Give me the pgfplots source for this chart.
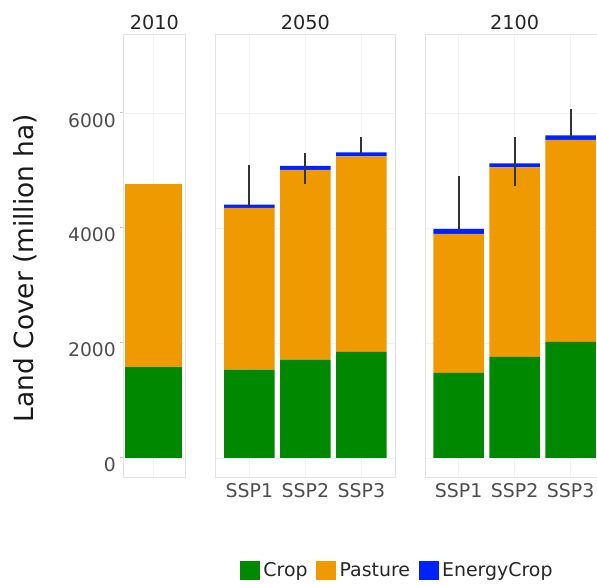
\documentclass[border=0pt]{standalone}
\usepackage{pgfplots}
\pgfplotsset{compat=1.18}
\usepackage{fontspec}
\setmainfont{DejaVu Sans}

\definecolor{cCrop}{HTML}{008800}
\definecolor{cPasture}{HTML}{EE9A00}
\definecolor{cEnergy}{HTML}{0022FF}
\definecolor{txtTick}{HTML}{4D4D4D}
\definecolor{txtStrip}{HTML}{262626}
\definecolor{panelLine}{HTML}{E3E3E3}
\definecolor{gridLine}{HTML}{F2F2F2}

\pgfplotsset{
  panel/.style={
    scale only axis, height=443bp,
    ymin=-350, ymax=7355,
    ytick={0,2000,4000,6000},
    ybar stacked, bar width=0.9,
    axis line style={panelLine, line width=1bp},
    grid=major, grid style={gridLine, line width=0.6bp},
    tick align=outside, major tick length=3bp,
    xtick style={draw=none}, ytick style={draw=none},
    xticklabel style={font=\fontsize{19}{22}\selectfont, text=txtTick,
      anchor=north, inner sep=0pt, yshift=-2.5bp},
    title style={font=\fontsize{19.3}{22}\selectfont, text=txtStrip,
      at={(0.5,1)}, anchor=south, inner sep=0pt, yshift=-1bp},
  },
  % same frame as a 3-category panel, used only to draw the error bars on top
  errlayer/.style={
    scale only axis, height=443bp, width=179.3bp,
    ymin=-350, ymax=7355, xmin=0.4, xmax=3.6,
    hide axis,
  },
  sq legend/.style={legend image code/.code={%
    \fill[##1] (0bp,-9.5bp) rectangle (20bp,9.5bp);}},
  errs/.style={draw=none, mark=none,
    error bars/.cd, y dir=both, y explicit, error mark=none,
    error bar style={draw=black!80, line width=2bp}},
}

\begin{document}
\begin{tikzpicture}

% 2010
\begin{axis}[panel, at={(123bp,107bp)}, anchor=south west, width=62.7bp,
  xmin=0.46, xmax=1.56, bar width=1,
  xtick={1}, xticklabels={},
  title={2010},
  ytick pos=left,
  yticklabels={0,2000,4000,6000},
  ytick style={draw=gray!45, line width=1bp},
  yticklabel style={font=\fontsize{18.8}{22}\selectfont, text=txtTick,
    anchor=north east, inner sep=0pt, xshift=-4bp},
]
\addplot[fill=cCrop, draw=none] coordinates {(1,1576)};
\addplot[fill=cPasture, draw=none] coordinates {(1,3189)};
\end{axis}

% 2050
\begin{axis}[panel, at={(215.7bp,107bp)}, anchor=south west, width=179.3bp,
  xmin=0.4, xmax=3.6,
  xtick={1,2,3}, xticklabels={SSP1,SSP2,SSP3},
  yticklabels={},
  title={2050},
  legend columns=3,
  legend style={at={(1.011,-0.2077)}, anchor=center, draw=none, fill=none,
    font=\fontsize{19}{22}\selectfont, text=txtStrip,
    nodes={inner sep=1.5bp},
    /tikz/every odd column/.append style={column sep=2bp},
    /tikz/every even column/.append style={column sep=7bp}},
]
\addplot[fill=cCrop, draw=none, sq legend] coordinates {(1,1536) (2,1709) (3,1843)};
\addlegendentry{Crop}
\addplot[fill=cPasture, draw=none, sq legend] coordinates {(1,2812) (2,3299) (3,3402)};
\addlegendentry{Pasture}
\addplot[fill=cEnergy, draw=none, sq legend] coordinates {(1,55) (2,70) (3,70)};
\addlegendentry{EnergyCrop}
\end{axis}
\begin{axis}[errlayer, at={(215.7bp,107bp)}, anchor=south west]
\addplot[errs] coordinates {
  (1,4403) += (0,698) -= (0,10)
  (2,5078) += (0,226) -= (0,313)
  (3,5315) += (0,260) -= (0,23)
};
\end{axis}

% 2100
\begin{axis}[panel, at={(425bp,107bp)}, anchor=south west, width=179.3bp,
  xmin=0.4, xmax=3.6,
  xtick={1,2,3}, xticklabels={SSP1,SSP2,SSP3},
  yticklabels={},
  title={2100},
]
\addplot[fill=cCrop, draw=none] coordinates {(1,1478) (2,1756) (3,2017)};
\addplot[fill=cPasture, draw=none] coordinates {(1,2417) (2,3297) (3,3513)};
\addplot[fill=cEnergy, draw=none] coordinates {(1,90) (2,70) (3,80)};
\end{axis}
\begin{axis}[errlayer, at={(425bp,107bp)}, anchor=south west]
\addplot[errs] coordinates {
  (1,3985) += (0,924) -= (0,15)
  (2,5123) += (0,459) -= (0,400)
  (3,5610) += (0,459) -= (0,28)
};
\end{axis}

\node[rotate=90, font=\fontsize{26.5}{30}\selectfont, text=black!90]
  at (25bp,317bp) {Land Cover (million ha)};

\pgfresetboundingbox
\useasboundingbox (0bp,0bp) rectangle (597bp,585bp);
\end{tikzpicture}
\end{document}
